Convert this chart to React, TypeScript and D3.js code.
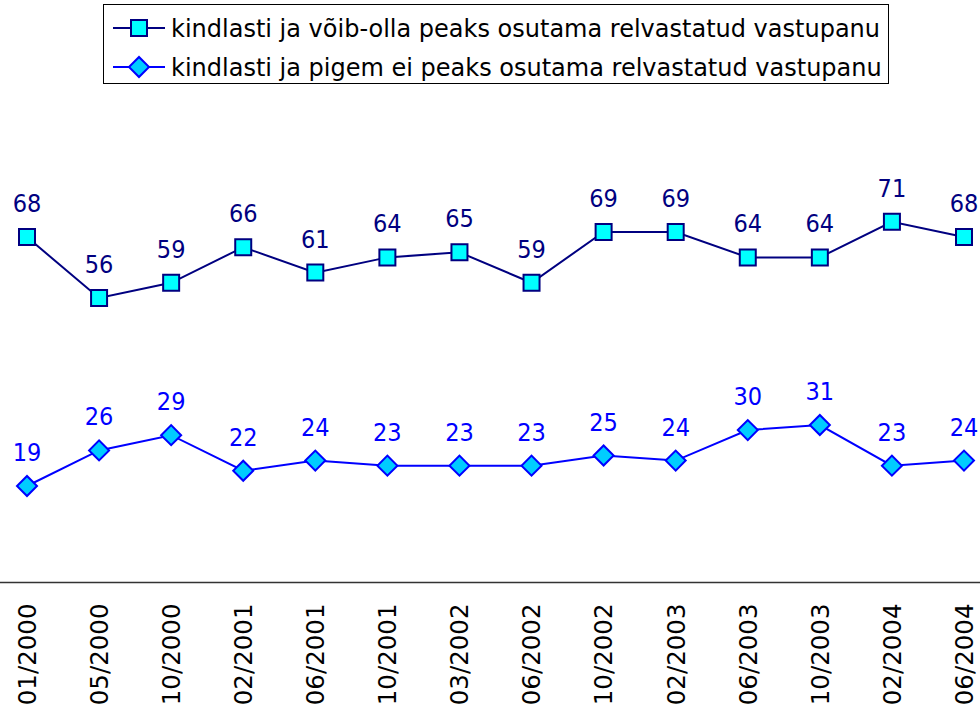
import React, { useRef, useEffect } from "react";
import * as d3 from "d3";

const periods = [
   "01/2000", "05/2000", "10/2000", "02/2001", "06/2001", "10/2001", "03/2002",
   "06/2002", "10/2002", "02/2003", "06/2003", "10/2003", "02/2004", "06/2004",
];
const seriesNames = [
   "kindlasti ja võib-olla peaks osutama relvastatud vastupanu",
   "kindlasti ja pigem ei peaks osutama relvastatud vastupanu",
];
const shouldResist = [68, 56, 59, 66, 61, 64, 65, 59, 69, 69, 64, 64, 71, 68];
const shouldNotResist = [19, 26, 29, 22, 24, 23, 23, 23, 25, 24, 30, 31, 23, 24];

const FONT_NARROW = "'DejaVu Sans Condensed', 'DejaVu Sans', sans-serif";
const FONT = "'DejaVu Sans', sans-serif";

export default function App() {
   const svgRef = useRef<SVGSVGElement>(null);

   useEffect(() => {
      const w = 980;
      const h = 708;
      const svg = d3.select(svgRef.current).attr("width", w).attr("height", h);
      svg.selectAll("*").remove();
      svg.append("rect").attr("width", w).attr("height", h).attr("fill", "#fff");

      // scales
      const x = d3.scalePoint<string>().domain(periods).range([27, 964]);
      const y = d3.scaleLinear().domain([0, 100]).range([582.5, 74.5]);

      const series = [
         { name: seriesNames[0], values: shouldResist, line: "#000080", fill: "#00ffff", size: 256, rot: 0 },
         { name: seriesNames[1], values: shouldNotResist, line: "#0000ff", fill: "#00ccff", size: 200, rot: 45 },
      ];

      // x axis
      const axis = svg.append("g").attr("transform", `translate(0, ${y(0)})`);
      axis.append("line").attr("x1", 0).attr("x2", w).attr("stroke", "#333").attr("stroke-width", 1.3);
      axis.selectAll("text.tick")
         .data(periods)
         .join("text")
         .attr("class", "tick")
         .attr("transform", (d) => `translate(${x(d)}, 21) rotate(-90)`)
         .attr("text-anchor", "end")
         .attr("dy", "0.36em")
         .style("font-family", FONT)
         .style("font-size", "24.5px")
         .attr("fill", "#000")
         .text((d) => d);

      // lines, markers, labels
      series.forEach((s) => {
         const line = d3.line<number>()
            .x((d, i) => x(periods[i])!)
            .y((d) => y(d));
         const g = svg.append("g");
         g.append("path")
            .attr("d", line(s.values))
            .attr("fill", "none")
            .attr("stroke", s.line)
            .attr("stroke-width", 2);
         g.selectAll("path.mark")
            .data(s.values)
            .join("path")
            .attr("class", "mark")
            .attr("d", d3.symbol().type(d3.symbolSquare).size(s.size)())
            .attr("transform", (d, i) => `translate(${x(periods[i])}, ${y(d)}) rotate(${s.rot})`)
            .attr("fill", s.fill)
            .attr("stroke", s.line)
            .attr("stroke-width", 2);
         g.selectAll("text.val")
            .data(s.values)
            .join("text")
            .attr("class", "val")
            .attr("x", (d, i) => x(periods[i])!)
            .attr("y", (d) => y(d) - 25)
            .attr("text-anchor", "middle")
            .style("font-family", FONT_NARROW)
            .style("font-size", "25px")
            .attr("fill", s.line)
            .text((d) => d);
      });

      // legend
      const legend = svg.append("g");
      legend.append("rect")
         .attr("x", 103.5).attr("y", 4.5).attr("width", 785).attr("height", 79)
         .attr("fill", "#fff").attr("stroke", "#000").attr("stroke-width", 1);
      series.forEach((s, i) => {
         const ly = 28 + i * 39;
         legend.append("line")
            .attr("x1", 113).attr("x2", 165).attr("y1", ly).attr("y2", ly)
            .attr("stroke", s.line).attr("stroke-width", 2);
         legend.append("path")
            .attr("d", d3.symbol().type(d3.symbolSquare).size(s.size)())
            .attr("transform", `translate(139, ${ly}) rotate(${s.rot})`)
            .attr("fill", s.fill).attr("stroke", s.line).attr("stroke-width", 2);
         legend.append("text")
            .attr("x", 171).attr("y", ly + 9)
            .style("font-family", FONT)
            .style("font-size", "24px")
            .attr("fill", "#000")
            .text(s.name);
      });
   }, []);

   return (
      <div style={{ position: "absolute", left: 0, top: 0 }}>
         <svg ref={svgRef} style={{ display: "block" }}></svg>
      </div>
   );
}
